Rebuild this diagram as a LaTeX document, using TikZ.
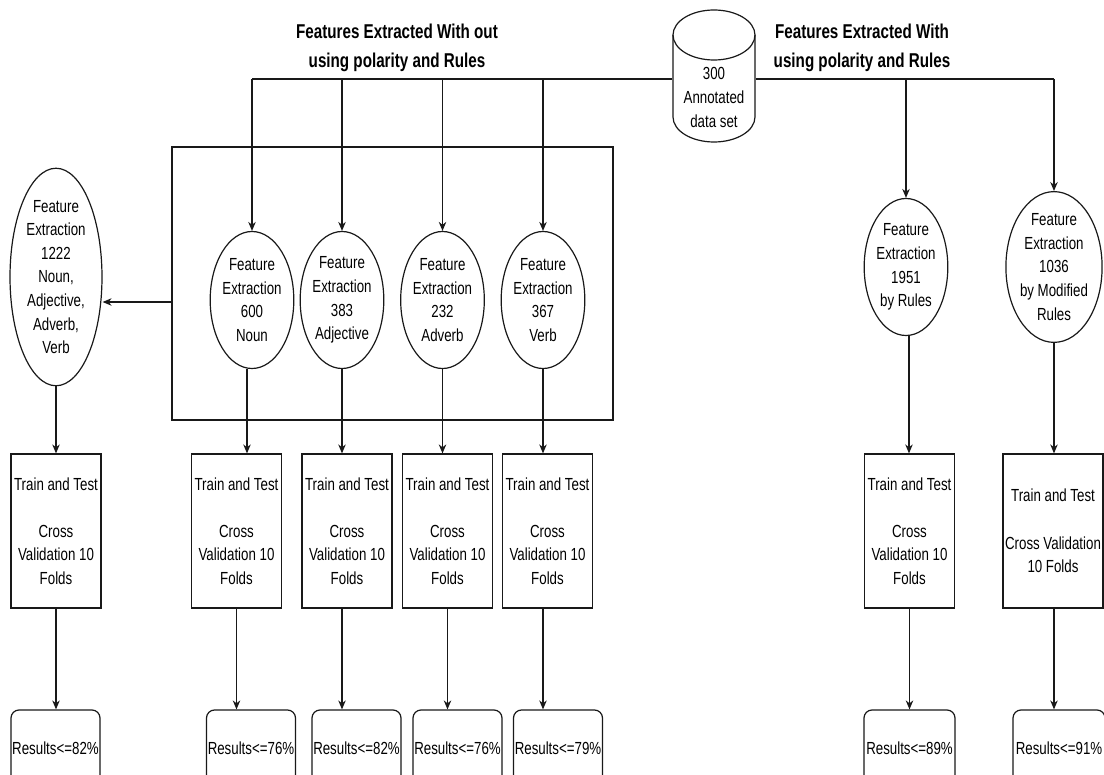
\documentclass[tikz,border=0pt]{standalone}
\usepackage{fontspec}
\setmainfont{Liberation Sans}[FakeStretch=0.76]
\usetikzlibrary{shapes.geometric,arrows.meta}
\tikzset{
  base/.style={draw=black!90, line width=1.2pt, align=center, inner sep=0pt, text=black,
    font=\fontsize{17.5}{23.6}\selectfont},
  ell/.style={base, ellipse, minimum width=80pt, minimum height=137pt},
  tbox/.style={base, rectangle, minimum width=90pt, minimum height=154pt},
  rbox/.style={base, rectangle, rounded corners=8pt, minimum width=89pt, minimum height=76pt},
  conn/.style={draw=black!90, line width=1.2pt},
  arr/.style={conn, -{Stealth[length=9pt,width=7.5pt]}},
  ttl/.style={align=center, inner sep=0pt, text=black, font=\fontsize{20}{29}\selectfont\bfseries}
}
\begin{document}
\begin{tikzpicture}[x=1pt,y=-1pt]
\useasboundingbox (0,0) rectangle (1104,775);
\clip (0,0) rectangle (1104,775);
\fill[white] (0,0) rectangle (1104,775);

% titles
\node[ttl] (t1) at (397,47.5) {Features Extracted With out\\using polarity and Rules};
\node[ttl] (t2) at (862,47.5) {Features Extracted With\\using polarity and Rules};

% cylinder
\node[base, draw=none, rectangle, minimum width=82pt, minimum height=132pt] (cyl) at (714,76) {};
\draw[conn] (673,35) arc[start angle=180, end angle=-180, x radius=41pt, y radius=25pt];
\draw[conn] (673,35) -- (673,117) arc[start angle=180, end angle=360, x radius=41pt, y radius=25pt] -- (755,35);
\node[base, draw=none] (cyltext) at (714,97.5) {300\\Annotated\\data set};

% group rectangle
\node[base, rectangle, minimum width=441pt, minimum height=273pt] (grp) at (392.5,283.5) {};

% ellipses
\node[ell, minimum width=92pt, minimum height=187pt] (lell) at (56,277) {Feature\\Extraction\\1222\\Noun,\\Adjective,\\Adverb,\\Verb};
\node[ell] (noun) at (252,300) {Feature\\Extraction\\600\\Noun};
\node[ell] (adj) at (342,300) {Feature\\Extraction\\383\\Adjective};
\node[ell] (adv) at (442.5,300) {Feature\\Extraction\\232\\Adverb};
\node[ell] (verb) at (543,300) {Feature\\Extraction\\367\\Verb};
\node[ell, minimum width=81pt] (e1951) at (906,267) {Feature\\Extraction\\1951\\by Rules};
\node[ell, minimum width=82pt] (e1036) at (1054,267) {Feature\\Extraction\\1036\\by Modified\\Rules};

% train boxes
\node[tbox] (tb1) at (56,531) {Train and Test\\[23.6pt]Cross\\Validation 10\\Folds};
\node[tbox] (tb2) at (236.5,531) {Train and Test\\[23.6pt]Cross\\Validation 10\\Folds};
\node[tbox] (tb3) at (347,531) {Train and Test\\[23.6pt]Cross\\Validation 10\\Folds};
\node[tbox] (tb4) at (447.5,531) {Train and Test\\[23.6pt]Cross\\Validation 10\\Folds};
\node[tbox] (tb5) at (547.5,531) {Train and Test\\[23.6pt]Cross\\Validation 10\\Folds};
\node[tbox] (tb6) at (909.5,531) {Train and Test\\[23.6pt]Cross\\Validation 10\\Folds};
\node[tbox, minimum width=100pt] (tb7) at (1053,531) {Train and Test\\[23.6pt]Cross Validation\\10 Folds};

% results
\node[rbox] (r1) at (55.5,748) {Results<=82\%};
\node[rbox] (r2) at (251,748) {Results<=76\%};
\node[rbox] (r3) at (356.5,748) {Results<=82\%};
\node[rbox] (r4) at (457.5,748) {Results<=76\%};
\node[rbox] (r5) at (558,748) {Results<=79\%};
\node[rbox, minimum width=91pt] (r6) at (909.5,748) {Results<=89\%};
\node[rbox, minimum width=92pt] (r7) at (1059,748) {Results<=91\%};

% top connectors
\coordinate (h) at (0,79);
\draw[conn] (noun.north |- h) -- (cyl.west |- h);
\draw[conn] (cyl.east |- h) -- (e1036.north |- h);
\draw[arr] (noun.north |- h) -- (noun.north);
\draw[arr] (adj.north |- h) -- (adj.north);
\draw[arr] (adv.north |- h) -- (adv.north);
\draw[arr] (verb.north |- h) -- (verb.north);
\draw[arr] (e1951.north |- h) -- (e1951.north);
\draw[arr] (e1036.north |- h) -- (e1036.north);

% group to left ellipse
\coordinate (g) at (0,302);
\draw[arr] (grp.west |- g) -- (lell.east |- g);

% ellipses to train boxes
\draw[arr] (lell.south) -- (lell.south |- tb1.north);
\draw[arr] ([xshift=-5pt]noun.south) -- ([xshift=-5pt]noun.south |- tb2.north);
\draw[arr] (adj.south) -- (adj.south |- tb3.north);
\draw[arr] (adv.south) -- (adv.south |- tb4.north);
\draw[arr] (verb.south) -- (verb.south |- tb5.north);
\draw[arr] ([xshift=3pt]e1951.south) -- ([xshift=3pt]e1951.south |- tb6.north);
\draw[arr] (e1036.south) -- (e1036.south |- tb7.north);

% train boxes to results
\draw[arr] (tb1.south) -- (tb1.south |- r1.north);
\draw[arr] (tb2.south) -- (tb2.south |- r2.north);
\draw[arr] ([xshift=-5pt]tb3.south) -- ([xshift=-5pt]tb3.south |- r3.north);
\draw[arr] (tb4.south) -- (tb4.south |- r4.north);
\draw[arr] ([xshift=-4.5pt]tb5.south) -- ([xshift=-4.5pt]tb5.south |- r5.north);
\draw[arr] (tb6.south) -- (tb6.south |- r6.north);
\draw[arr] ([xshift=1pt]tb7.south) -- ([xshift=1pt]tb7.south |- r7.north);
\end{tikzpicture}
\end{document}
